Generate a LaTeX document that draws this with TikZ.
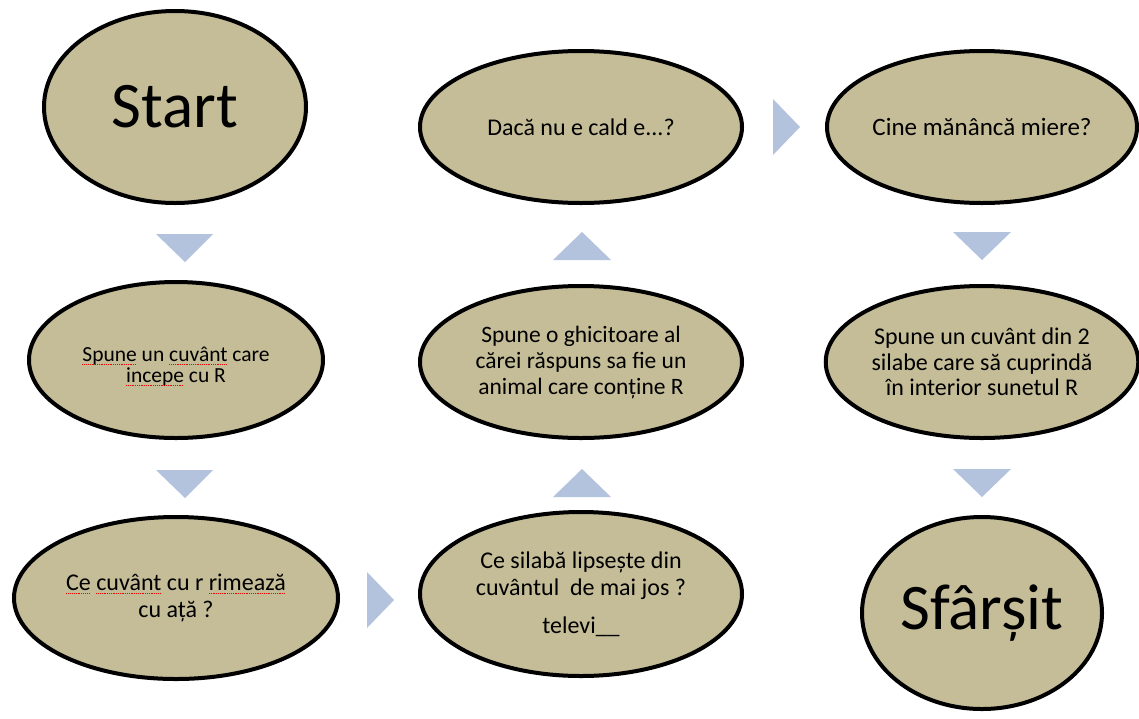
\documentclass[tikz,border=0pt]{standalone}
\usepackage{fontspec}
\setmainfont{Carlito}
\usetikzlibrary{shapes.geometric}
\definecolor{tan}{HTML}{C4BD97}
\definecolor{arrowblue}{HTML}{B3C2DD}
\newcommand\sqw[1]{\leavevmode\setbox0\hbox{#1}\rlap{\hbox to \wd0{\color{red}\xleaders\hbox{\rule[-2.8pt]{1pt}{0.6pt}\kern0.8pt}\hfil}}\box0\relax}
\tikzset{
  bubble/.style={ellipse, draw=black, line width=4pt, fill=tan, inner sep=0pt, align=center, text=black},
  arrowtri/.style={fill=arrowblue, draw=none}
}
\begin{document}
\begin{tikzpicture}[x=1pt,y=1pt]
\useasboundingbox (0,0) rectangle (1139,-718);
% column 1
\node[bubble, minimum width=262pt, minimum height=192pt, font=\fontsize{65}{72}\selectfont] (start) at (175,-107) {Start};
\node[bubble, minimum width=294pt, minimum height=156pt, font=\fontsize{21.5}{22}\selectfont] (q1) at (176,-360) {\raisebox{-8pt}[\height][\depth]{\begin{tabular}{@{}c@{}}\sqw{Spune} un \sqw{cuvânt} care\\[-1pt] \sqw{incepe} cu R\end{tabular}}};
\node[bubble, minimum width=324pt, minimum height=162pt, font=\fontsize{24}{27}\selectfont] (q2) at (176,-598) {\sqw{Ce} \sqw{cuvânt} cu r \sqw{rimează}\\ cu ață ?};
% column 2
\node[bubble, minimum width=322pt, minimum height=164pt, font=\fontsize{24}{27}\selectfont] (q3) at (581,-594) {Ce silabă lipsește din\\ cuvântul\ \ de mai jos ?\\[11pt] televi\_\_};
\node[bubble, minimum width=322pt, minimum height=152pt, font=\fontsize{23.5}{26}\selectfont] (q4) at (581,-362) {Spune o ghicitoare al\\ cărei răspuns sa fie un\\ animal care conține R};
\node[bubble, minimum width=322pt, minimum height=152pt, font=\fontsize{24}{26}\selectfont] (q5) at (581,-127) {Dacă nu e cald e...?};
% column 3
\node[bubble, minimum width=310pt, minimum height=152pt, font=\fontsize{25}{26}\selectfont] (q6) at (982,-127) {Cine mănâncă miere?};
\node[bubble, minimum width=310pt, minimum height=152pt, font=\fontsize{24}{25.5}\selectfont] (q7) at (982,-362) {Spune un cuvânt din 2\\ silabe care să cuprindă\\ în interior sunetul R};
\node[bubble, minimum width=240pt, minimum height=192pt, font=\fontsize{65}{72}\selectfont] (stop) at (982,-613) {Sfârșit};
% arrows
\fill[arrowtri] (156,-234) -- (213,-234) -- (185,-262) -- cycle;
\fill[arrowtri] (156,-470) -- (213,-470) -- (185,-498) -- cycle;
\fill[arrowtri] (367,-572) -- (367,-628) -- (394,-600) -- cycle;
\fill[arrowtri] (553,-497) -- (611,-497) -- (582,-469) -- cycle;
\fill[arrowtri] (553,-260) -- (611,-260) -- (582,-232) -- cycle;
\fill[arrowtri] (773,-99) -- (773,-155) -- (800,-127) -- cycle;
\fill[arrowtri] (953,-232) -- (1011,-232) -- (982,-260) -- cycle;
\fill[arrowtri] (953,-469) -- (1011,-469) -- (982,-497) -- cycle;
\end{tikzpicture}
\end{document}
